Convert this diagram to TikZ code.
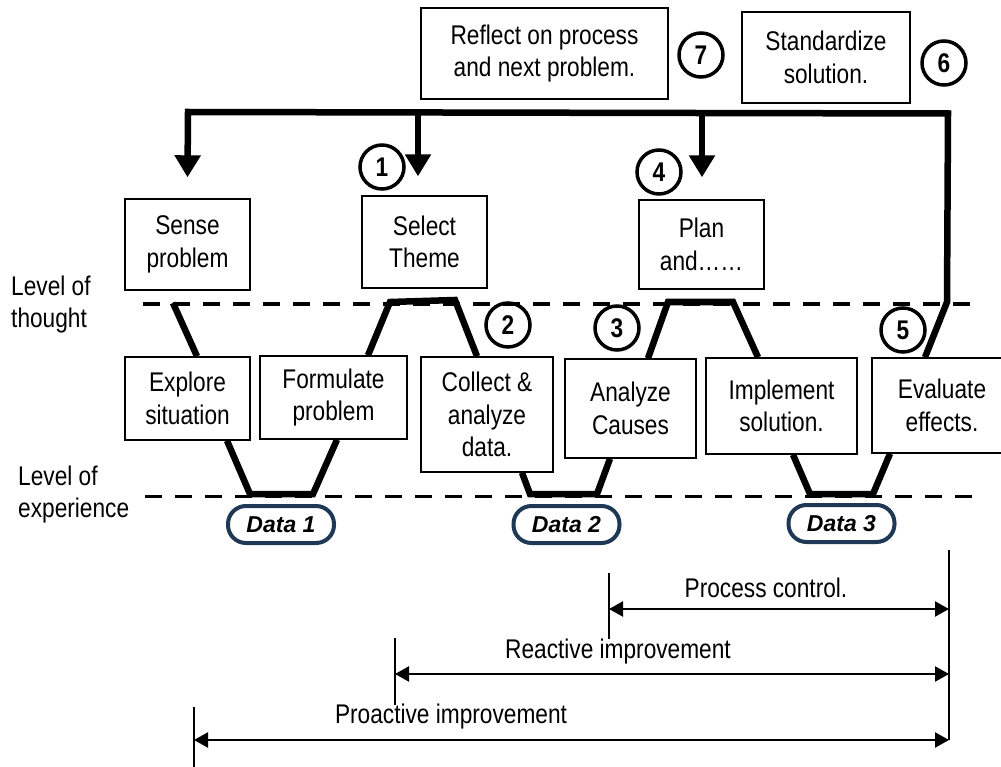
\documentclass[tikz,border=0pt]{standalone}
\usepackage{fontspec}
\setmainfont{Liberation Sans}[FakeStretch=0.84]
\newfontfamily\datafont{Liberation Sans}
\usetikzlibrary{arrows.meta}
\definecolor{navy}{RGB}{31,56,86}
\tikzset{
  box/.style={draw, line width=1.4pt, align=center, inner sep=0pt,
    font=\fontsize{27}{32.5}\selectfont},
  num/.style={circle, draw, line width=3.5pt, minimum size=44pt, inner sep=0pt,
    font=\fontsize{27}{27}\selectfont\bfseries},
  flow/.style={line width=6.5pt},
  loopflow/.style={line width=6.5pt, -{Triangle[length=22pt,width=25pt]}},
  level/.style={line width=3pt, dash pattern=on 17pt off 13pt},
  datatag/.style={draw=navy, line width=4pt, rounded corners=18pt,
    minimum width=106pt, minimum height=37pt, inner sep=0pt,
    font=\datafont\fontsize{23}{23}\selectfont\bfseries\itshape},
  span/.style={line width=2.2pt,
    {Triangle[length=14pt,width=15pt]}-{Triangle[length=14pt,width=15pt]}},
  tick/.style={line width=1.4pt},
  txt/.style={inner sep=0pt, font=\fontsize{27}{32.5}\selectfont},
}
\begin{document}
\begin{tikzpicture}[x=1pt,y=-1pt]
\useasboundingbox (0,0) rectangle (1001,767);

% level lines
\coordinate (thoughtL) at (143,304);
\coordinate (thoughtR) at (975,304);
\coordinate (expL) at (145,496);
\coordinate (expR) at (976,496);
\draw[level] (thoughtL) -- (thoughtR);
\draw[level] (expL) -- (expR);

\node[txt, anchor=west, align=left] (lthought) at (11,304.5) {Level of\\thought};
\node[txt, anchor=west, align=left] (lexp) at (18,494.5) {Level of\\experience};

% boxes
\node[box, minimum width=247pt, minimum height=91pt] (reflect) at (544.5,53.5) {Reflect on process\\and next problem.};
\node[box, minimum width=168pt, minimum height=91pt] (stand) at (826,57.5) {Standardize\\solution.};
\node[box, minimum width=125pt, minimum height=91pt] (sense) at (187.5,244.5) {Sense\\problem};
\node[box, minimum width=125pt, minimum height=92pt] (select) at (424.5,242) {Select\\Theme};
\node[box, minimum width=125pt, minimum height=89pt] (plan) at (701.5,244.5) {Plan\\and\ldots\ldots};
\node[box, minimum width=125pt, minimum height=83pt] (explore) at (187.5,398.5) {Explore\\situation};
\node[box, minimum width=147pt, minimum height=83pt] (formulate) at (333.5,397.5) {Formulate\\problem};
\node[box, minimum width=132pt, minimum height=115pt] (collect) at (487,414.5) {Collect \&\\analyze\\data.};
\node[box, minimum width=131pt, minimum height=99pt] (analyze) at (630.5,408.5) {Analyze\\Causes};
\node[box, minimum width=151pt, minimum height=96pt] (implement) at (781.5,406) {Implement\\solution.};
\node[box, minimum width=140pt, minimum height=95pt] (evaluate) at (942,405.5) {Evaluate\\effects.};

% step numbers
\node[num] (n1) at (382,167) {1};
\node[num] (n2) at (508,325) {2};
\node[num] (n3) at (617,328) {3};
\node[num] (n4) at (659,172) {4};
\node[num] (n5) at (903,330) {5};
\node[num] (n6) at (944,63) {6};
\node[num] (n7) at (701,55) {7};

% path between thought and experience
\coordinate (p1) at (173,303);
\coordinate (p2) at (250,494);
\coordinate (p3) at (313,494);
\coordinate (p4) at (390,302);
\coordinate (p5) at (455,300);
\coordinate (p6) at (530,494);
\coordinate (p7) at (597,494);
\coordinate (p8) at (668,302);
\coordinate (p9) at (733,302);
\coordinate (p10) at (810,494);
\coordinate (p11) at (873,494);
\coordinate (p12) at (947,302);
\draw[flow] (p1) -- ([xshift=9.5pt]explore.north);
\draw[flow] ([xshift=39.5pt]explore.south) -- (p2) -- (p3) -- ([xshift=3.5pt]formulate.south);
\draw[flow] ([xshift=34.5pt]formulate.north) -- (p4) -- (p5) -- ([xshift=-10pt]collect.north);
\draw[flow] ([xshift=35pt]collect.south) -- (p6) -- (p7) -- ([xshift=-20.5pt]analyze.south);
\draw[flow] ([xshift=17.5pt]analyze.north) -- (p8) -- (p9) -- ([xshift=-23.5pt]implement.north);
\draw[flow] ([xshift=11.5pt]implement.south) -- (p10) -- (p11) -- ([xshift=-52pt]evaluate.south);

% feedback loop back to the top
\coordinate (topR) at (948,113.5);
\coordinate (topL) at (188,112);
\coordinate (b1) at (418,112.3);
\coordinate (b2) at (702,113);
\draw[loopflow] ([xshift=-17pt]evaluate.north) -- (p12) -- (topR) -- (topL) -- ([yshift=21pt]sense.north);
\draw[loopflow] (b1) -- ([xshift=-6.5pt,yshift=19pt]select.north);
\draw[loopflow] (b2) -- ([xshift=0.5pt,yshift=22pt]plan.north);

% data tags
\node[datatag] (d1) at (281,524.5) {Data 1};
\node[datatag] (d2) at (566.5,524.5) {Data 2};
\node[datatag] (d3) at (841.5,523.5) {Data 3};

% improvement spans
\coordinate (endTop) at (949,550);
\coordinate (endBot) at (949,740);
\draw[tick] (endTop) -- (endBot);
\coordinate (pcTop) at (609,573);
\coordinate (pcBot) at (609,639);
\coordinate (riTop) at (395,638);
\coordinate (riBot) at (395,705);
\coordinate (paTop) at (194,707);
\coordinate (paBot) at (194,768);
\draw[tick] (pcTop) -- (pcBot);
\draw[tick] (riTop) -- (riBot);
\draw[tick] (paTop) -- (paBot);
\draw[span] (pcTop |- 0,609) -- (endTop |- 0,609);
\draw[span] (riTop |- 0,674) -- (endTop |- 0,674);
\draw[span] (paTop |- 0,740) -- (endTop |- 0,740);
\node[txt] (pc) at (766,588) {Process control.};
\node[txt] (ri) at (618,652) {Reactive improvement};
\node[txt] (pa) at (451,717) {Proactive improvement};
\end{tikzpicture}
\end{document}
